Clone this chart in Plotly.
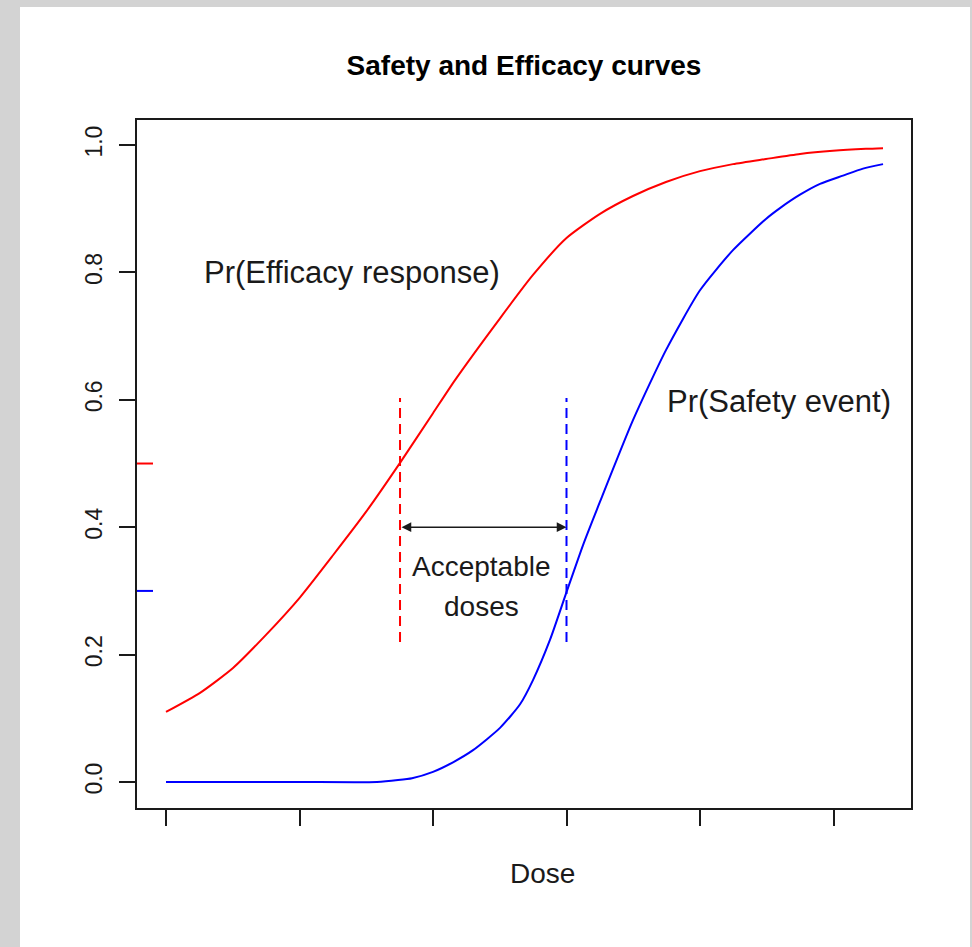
import plotly.graph_objects as go

# ---- data ----
dose_ticks = [0, 1, 2, 3, 4, 5]
y_ticks = [0.0, 0.2, 0.4, 0.6, 0.8, 1.0]

eff_dose = [0.0, 0.255, 0.502, 0.749, 1.004, 1.251, 1.498, 1.753, 2.0, 2.165, 2.502,
            2.749, 3.0, 3.251, 3.498, 3.745, 4.0, 4.247, 4.494, 4.749, 4.996, 5.243, 5.371]
eff_prob = [0.110, 0.140, 0.179, 0.231, 0.290, 0.356, 0.424, 0.501, 0.579, 0.631, 0.728,
            0.796, 0.854, 0.892, 0.920, 0.942, 0.959, 0.970, 0.978, 0.986, 0.991, 0.994, 0.995]

saf_dose = [0.0, 0.5, 1.0, 1.58, 1.738, 1.843, 2.0, 2.15, 2.3, 2.502, 2.652, 2.749, 2.876,
            3.0, 3.124, 3.251, 3.498, 3.745, 4.0, 4.247, 4.494, 4.599, 4.749, 4.899,
            5.071, 5.221, 5.371]
saf_prob = [0.0, 0.0, 0.0, 0.0, 0.003, 0.006, 0.016, 0.031, 0.050, 0.085, 0.122, 0.160, 0.223,
            0.298, 0.372, 0.440, 0.568, 0.678, 0.772, 0.835, 0.884, 0.901, 0.922, 0.939,
            0.952, 0.963, 0.970]

eff_target = 0.5      # efficacy threshold
saf_limit = 0.3       # safety threshold
min_dose = 1.753      # dose where efficacy = 0.5
max_dose = 3.0        # dose where safety = 0.3
marker_lo, marker_hi = 0.22, 0.603
arrow_level = 0.4

FONT = "Liberation Sans, Arial, sans-serif"
INK = "#1a1a1a"

fig = go.Figure()
fig.add_trace(go.Scatter(x=eff_dose, y=eff_prob, mode="lines", line_shape="spline",
                         line=dict(color="#ff0000", width=2, smoothing=0.6), showlegend=False))
fig.add_trace(go.Scatter(x=saf_dose, y=saf_prob, mode="lines", line_shape="spline",
                         line=dict(color="#0000ff", width=2, smoothing=0.6), showlegend=False))

# vertical dashed markers
fig.add_trace(go.Scatter(x=[min_dose, min_dose], y=[marker_lo, marker_hi], mode="lines",
                         line=dict(color="#ff0000", width=2, dash="10px,6px"), showlegend=False))
fig.add_trace(go.Scatter(x=[max_dose, max_dose], y=[marker_lo, marker_hi], mode="lines",
                         line=dict(color="#0000ff", width=2, dash="10px,6px"), showlegend=False))

W, H = 972, 947
L, R, T, B = 137, 61, 120, 139
pw, ph = W - L - R, H - T - B

shapes = [
    # white panel over the grey page
    dict(type="rect", xref="paper", yref="paper",
         x0=(20 - L) / pw, x1=(970 - L) / pw,
         y0=(H - B - H) / ph, y1=(H - B - 7) / ph,
         fillcolor="white", line=dict(width=0), layer="below"),
    # coloured inward ticks on the y axis
    dict(type="line", xref="paper", yref="y", x0=0, x1=16 / pw,
         y0=eff_target, y1=eff_target, line=dict(color="#ff0000", width=2)),
    dict(type="line", xref="paper", yref="y", x0=0, x1=16 / pw,
         y0=saf_limit, y1=saf_limit, line=dict(color="#0000ff", width=2)),
]

annotations = [
    dict(x=max_dose, y=arrow_level, ax=min_dose, ay=arrow_level, xref="x", yref="y",
         axref="x", ayref="y", text="", showarrow=True, arrowside="end+start",
         arrowhead=2, arrowsize=1.3, arrowwidth=1.5, arrowcolor=INK, standoff=0,
         startstandoff=0),
    dict(x=1.39, y=0.80, xref="x", yref="y", text="Pr(Efficacy response)", showarrow=False,
         font=dict(family=FONT, size=31, color=INK)),
    dict(x=4.59, y=0.598, xref="x", yref="y", text="Pr(Safety event)", showarrow=False,
         font=dict(family=FONT, size=31, color=INK)),
    dict(x=2.36, y=0.339, xref="x", yref="y", text="Acceptable", showarrow=False,
         font=dict(family=FONT, size=28, color=INK)),
    dict(x=2.36, y=0.276, xref="x", yref="y", text="doses", showarrow=False,
         font=dict(family=FONT, size=28, color=INK)),
    dict(x=(542 - L) / pw, y=(H - B - 873) / ph, xref="paper", yref="paper", text="Dose",
         xanchor="center", yanchor="middle",
         showarrow=False, font=dict(family=FONT, size=28, color=INK)),
]

fig.update_layout(
    width=W, height=H,
    margin=dict(l=L, r=R, t=T, b=B, pad=0),
    paper_bgcolor="#d3d3d3",
    plot_bgcolor="white",
    title=dict(text="<b>Safety and Efficacy curves</b>", x=0.5, xref="paper",
               xanchor="center", y=1 - 65 / H, yanchor="middle", yref="container",
               font=dict(family=FONT, size=28, color="#000000")),
    shapes=shapes,
    annotations=annotations,
    showlegend=False,
)

fig.update_xaxes(range=[-0.2172, 5.5805], tickvals=dose_ticks, showticklabels=False,
                 ticks="outside", ticklen=16, tickwidth=2, tickcolor=INK,
                 showline=True, mirror=True, linecolor=INK, linewidth=2,
                 showgrid=False, zeroline=False)
fig.update_yaxes(range=[-0.0408, 1.0393], tickvals=y_ticks,
                 ticktext=[f"{v:.1f}" for v in y_ticks], tickangle=-90,
                 ticks="outside", ticklen=16, tickwidth=2, tickcolor=INK,
                 ticklabelstandoff=8,
                 tickfont=dict(family=FONT, size=23, color=INK),
                 showline=True, mirror=True, linecolor=INK, linewidth=2,
                 showgrid=False, zeroline=False)

fig.write_html("out.html", config={"displayModeBar": False},
               post_script="document.body.style.margin='0';document.body.style.background='#d3d3d3';")
